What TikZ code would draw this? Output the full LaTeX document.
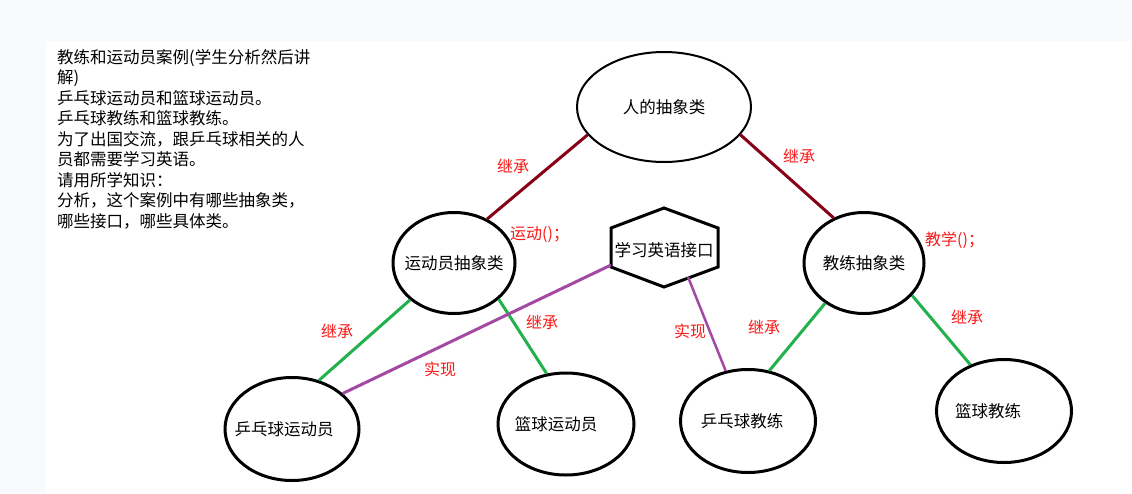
\documentclass[tikz,border=0pt]{standalone}
\usepackage{fontspec}
\setmainfont{Noto Sans CJK SC}
\usepackage{xcolor}
\usepackage{tikz}
\usetikzlibrary{shapes.geometric}
\definecolor{bgpage}{RGB}{249,250,254}
\definecolor{absred}{RGB}{136,0,21}
\definecolor{inhgreen}{RGB}{34,177,76}
\definecolor{implpurple}{RGB}{163,73,164}
\definecolor{lblred}{RGB}{250,25,25}
% class name in a box of no width, shifted left by half of #1
\newcommand{\clsname}[2][0pt]{\makebox[0pt]{#2\hspace*{#1}}}

\begin{document}
\begin{tikzpicture}[x=1pt, y=-1pt,
    cls/.style     ={ellipse, draw=black, line width=3pt, fill=white, inner sep=0pt,
                     font=\fontsize{16.5}{19}\selectfont},
    absline/.style ={draw=absred, line width=3pt},
    inhline/.style ={draw=inhgreen, line width=3pt},
    implline/.style={draw=implpurple, line width=3pt},
    lbl/.style     ={text=lblred, font=\fontsize{16}{19}\selectfont, inner sep=0pt},
    notes/.style   ={font=\fontsize{16.5}{20.5}\selectfont, align=left, inner sep=0pt,
                     anchor=north west}
  ]
    % --- page background ---
    \useasboundingbox (0,0) rectangle (1132,493);
    \fill[bgpage] (0,0) rectangle (1132,493);
    \fill[white] (46,41) rectangle (1132,493);

    % --- task text ---
    \node[notes] (task) at (57,49) {教练和运动员案例(学生分析然后讲\\解)\\乒乓球运动员和篮球运动员。\\乒乓球教练和篮球教练。\\为了出国交流，跟乒乓球相关的人\\员都需要学习英语。\\请用所学知识：\\分析，这个案例中有哪些抽象类，\\哪些接口，哪些具体类。};

    % --- abstract classes ---
    \node[cls, line width=2pt, minimum width=174, minimum height=110] (person) at (664,107) {\clsname{人的抽象类}};
    \node[cls, minimum width=122, minimum height=101] (athlete) at (454,263) {\clsname{运动员抽象类}};
    \node[cls, minimum width=120, minimum height=101] (coach) at (864,263) {\clsname{教练抽象类}};

    % --- interface (hexagon drawn by hand) ---
    \draw[line width=3pt, fill=white, line join=miter]
      (664,208) -- (718,228) -- (718,267) -- (664,287) -- (611,267) -- (611,228) -- cycle;
    \coordinate (ifaceL) at (611,265);
    \coordinate (ifaceR) at (688,277);
    \node[font=\fontsize{16.5}{19}\selectfont, inner sep=0pt] (iface) at (664,250) {学习英语接口};

    % --- concrete classes ---
    \node[cls, minimum width=134, minimum height=103] (pingAth) at (292,429) {\clsname[16pt]{乒乓球运动员}};
    \node[cls, minimum width=136, minimum height=102] (basAth) at (566,424) {\clsname[20pt]{篮球运动员}};
    \node[cls, minimum width=135, minimum height=103] (pingCoach) at (748,421) {\clsname[12pt]{乒乓球教练}};
    \node[cls, minimum width=135, minimum height=103] (basCoach) at (1004,411) {\clsname[32pt]{篮球教练}};

    % inheritance from the person class
    \draw[absline] (person.200) -- (athlete.53);
    \draw[absline] (person.340) -- (coach.124);
    % inheritance to the concrete classes
    \draw[inhline] (athlete.220) -- (pingAth.61);
    \draw[inhline] (athlete.321) -- (basAth.111);
    \draw[inhline] (coach.226) -- (pingCoach.67);
    \draw[inhline] (coach.326) -- (basCoach.126);
    % implementation of the interface
    \draw[implline] (ifaceL) -- (pingAth.35);
    \draw[implline, line width=2.5pt] (ifaceR) -- (pingCoach.114);

    % --- labels ---
    \node[lbl] (lInhA) at (513,166) {继承};
    \node[lbl] (lInhC) at (799,156) {继承};
    \node[lbl, anchor=west] (lSport) at (510,234) {运动()；};
    \node[lbl, anchor=west] (lTeach) at (925,240) {教学()；};
    \node[lbl] (lInhPA) at (337,331) {继承};
    \node[lbl] (lInhBA) at (542,322) {继承};
    \node[lbl] (lImpA) at (440,369) {实现};
    \node[lbl] (lImpC) at (690,331) {实现};
    \node[lbl] (lInhPC) at (764,327) {继承};
    \node[lbl] (lInhBC) at (967,317) {继承};
  \end{tikzpicture}
\end{document}
